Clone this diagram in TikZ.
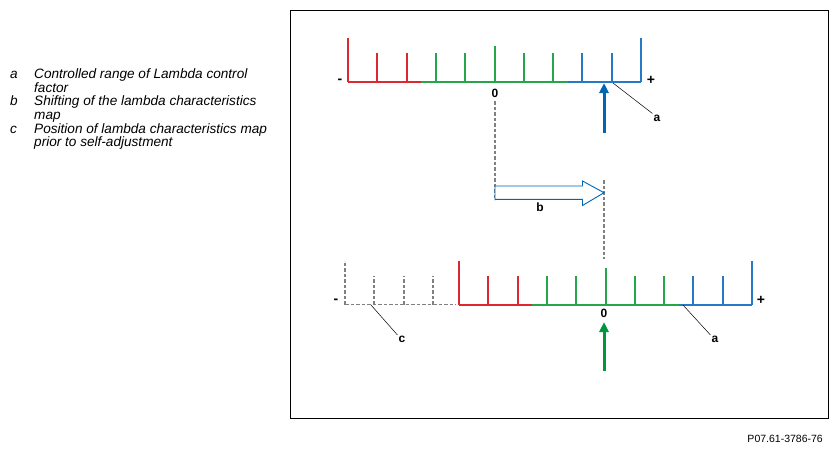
\documentclass[tikz,border=0pt]{standalone}
\usepackage{xcolor}
\usepackage{fontspec}
\setmainfont{Liberation Sans}
\usepackage{tikz}
\usetikzlibrary{arrows.meta}

\definecolor{scalered}{RGB}{220,40,48}
\definecolor{scalegreen}{RGB}{38,166,76}
\definecolor{scaleblue}{RGB}{36,122,196}
\definecolor{arrowblue}{RGB}{0,102,178}
\definecolor{arrowgreen}{RGB}{0,150,62}
\definecolor{oldgray}{RGB}{128,128,128}

\tikzset{
  scaleline/.style={line width=2pt},
  oldline/.style={oldgray,line width=1.2pt,dash pattern=on 3.5pt off 2pt},
  leader/.style={black,line width=0.5pt},
  callout/.style={font=\bfseries\fontsize{12}{12}\selectfont,inner sep=1pt},
  signlabel/.style={font=\bfseries\fontsize{14}{14}\selectfont,inner sep=0pt},
  legendtext/.style={font=\itshape\fontsize{13.6}{13.6}\selectfont,anchor=base west,inner sep=0pt,align=left},
  bigarrow/.style={line width=3pt,-{Triangle[length=10pt,width=9pt]}}
}

% one lambda scale, left end at (#1,#2)
\newcommand{\lamscale}[2]{%
  \begin{scope}[shift={(#1,#2)}]
    \draw[scaleline,scalered] (0,0) -- ({round(2.5*\dd)},0);
    \draw[scaleline,scalegreen] ({round(2.5*\dd)},0) -- ({round(7.5*\dd)},0);
    \draw[scaleline,scaleblue] ({round(7.5*\dd)},0) -- ({round(10*\dd)},0);
    \draw[scaleline,scalered] (0,0) -- (0,-44);
    \draw[scaleline,scaleblue] ({round(10*\dd)},0) -- ({round(10*\dd)},-44);
    \draw[scaleline,scalegreen] ({round(5*\dd)},0) -- ({round(5*\dd)},-36.5);
    \foreach \i in {1,2}
      \draw[scaleline,scalered] ({round(\i*\dd)},0) -- ({round(\i*\dd)},-29);
    \foreach \i in {3,4,6,7}
      \draw[scaleline,scalegreen] ({round(\i*\dd)},0) -- ({round(\i*\dd)},-29);
    \foreach \i in {8,9}
      \draw[scaleline,scaleblue] ({round(\i*\dd)},0) -- ({round(\i*\dd)},-29);
  \end{scope}}
\newcommand{\dd}{29.3}

\begin{document}
\begin{tikzpicture}[x=1pt,y=-1pt]
  \useasboundingbox (0,0) rectangle (836,451);

  % legend (nodes sit on the baseline of their last line)
  \node[legendtext] (keya) at (10,78.7) {a};
  \node[legendtext] (texta) at (34,92.3) {Controlled range of Lambda control\\factor};
  \node[legendtext] (keyb) at (10,105.9) {b};
  \node[legendtext] (textb) at (34,119.5) {Shifting of the lambda characteristics\\map};
  \node[legendtext] (keyc) at (10,133.1) {c};
  \node[legendtext] (textc) at (34,146.7) {Position of lambda characteristics map\\prior to self-adjustment};

  % frame
  \draw[line width=0.8pt] (290,10) rectangle (828,418);

  % upper scale
  \lamscale{348}{82}
  \node[signlabel] (minustop) at (340,81.5) {-};
  \node[signlabel] (plustop) at (651,80.5) {+};
  \node[callout] (zerotop) at (495,93) {0};
  \coordinate (bluetail) at (604,133);
  \coordinate (bluetip) at (604,83);
  \draw[bigarrow,arrowblue] (bluetail) -- (bluetip);
  \coordinate (atop) at (613,83);
  \node[callout] (labelatop) at (657,118) {a};
  \draw[leader] (atop) -- (labelatop.north west);

  % shift of the map
  \coordinate (shiftstart) at (495,101);
  \coordinate (shiftfoot) at (495,200);
  \coordinate (shiftend) at (604,180);
  \coordinate (shiftdown) at (604,259);
  \draw[oldline] (shiftstart) -- (shiftfoot);
  \draw[oldline] (shiftend) -- (shiftdown);
  \draw[arrowblue,line width=0.9pt,fill=white]
    (495,186) -- (582.5,186) -- (582.5,181) -- (604,192.7)
    -- (582.5,205.5) -- (582.5,199.3) -- (495,199.3) -- cycle;
  \node[callout] (labelb) at (540,207.5) {b};

  % old position (dashed)
  \draw[oldline] (345,304.5) -- (456,304.5);
  \draw[oldline] (345,304.5) -- (345,260.5);
  \foreach \i in {1,2,3}
    \draw[oldline] ({345+round(\i*\dd)},304.5) -- ({345+round(\i*\dd)},275.5);

  % lower scale
  \lamscale{459}{304.5}
  \node[signlabel] (minusbot) at (336,301.5) {-};
  \node[signlabel] (plusbot) at (761,300.5) {+};
  \node[callout] (zerobot) at (604,313.5) {0};
  \coordinate (greentail) at (604,371);
  \coordinate (greentip) at (604,322);
  \draw[bigarrow,arrowgreen] (greentail) -- (greentip);
  \coordinate (abot) at (683,305);
  \node[callout] (labelabot) at (715,339.5) {a};
  \draw[leader] (abot) -- (labelabot.north west);
  \coordinate (cbot) at (371,305);
  \node[callout] (labelc) at (402,339.5) {c};
  \draw[leader] (cbot) -- (labelc.north west);

  % drawing number
  \node[anchor=base east,inner sep=0pt,font=\fontsize{10.5}{10.5}\selectfont] (docno) at (823,442) {P07.61-3786-76};
\end{tikzpicture}
\end{document}
